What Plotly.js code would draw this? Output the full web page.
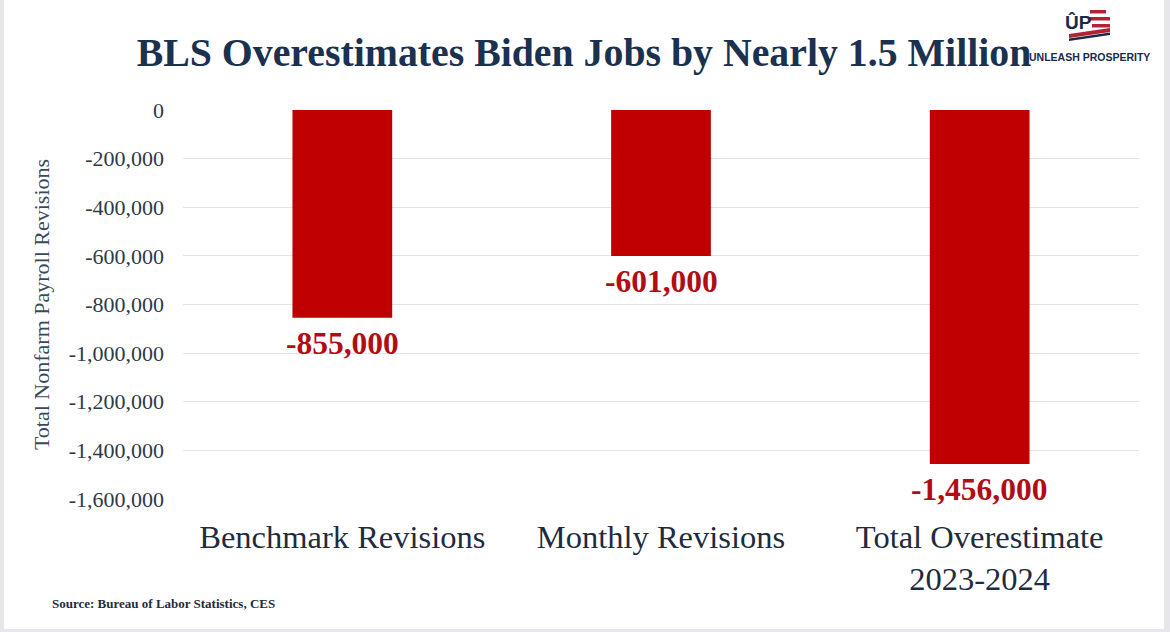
<!DOCTYPE html>
<html>
<head>
<meta charset="utf-8">
<script src="https://cdn.plot.ly/plotly-3.0.1.min.js"></script>
<style>
html,body{margin:0;padding:0;background:#fff;}
#chart{width:1170px;height:632px;}
</style>
</head>
<body>
<div id="chart"></div>
<script>
// ---- data ----
var categories = ["Benchmark Revisions", "Monthly Revisions", "Total Overestimate<br>2023-2024"];
var revisions = [-855000, -601000, -1456000];
var tickValues = [0, -200000, -400000, -600000, -800000, -1000000, -1200000, -1400000, -1600000];
var tickLabels = ["0", "-200,000", "-400,000", "-600,000", "-800,000", "-1,000,000", "-1,200,000", "-1,400,000", "-1,600,000"];
var valueLabels = ["-855,000", "-601,000", "-1,456,000"];

// ---- layout geometry (pixels -> paper) ----
var W = 1170, H = 632;
var mL = 183, mR = 31, mT = 110, mB = 133;
var pw = W - mL - mR, ph = H - mT - mB;
function px(x){ return (x - mL) / pw; }
function py(y){ return (H - mB - y) / ph; }

var serif = "Liberation Serif, Times New Roman, serif";
var navy = "#1B3150";
var red = "#C00000";

var trace = {
  type: "bar",
  x: categories,
  y: revisions,
  marker: {color: red, line: {width: 0}},
  width: 0.313,
  hoverinfo: "skip"
};

var annotations = categories.map(function(c, i){
  return {
    x: c, y: revisions[i], xref: "x", yref: "y",
    text: "<b>" + valueLabels[i] + "</b>",
    showarrow: false, yanchor: "top", yshift: -6,
    font: {family: serif, size: 31.5, color: "#B00D14"}
  };
});

annotations.push({
  xref: "paper", yref: "paper", x: px(50), y: py(603),
  xanchor: "left", yanchor: "middle", showarrow: false,
  text: "<b>Source: Bureau of Labor Statistics, CES</b>",
  font: {family: serif, size: 13, color: "#1E2C3E"}
});

// logo
annotations.push({
  xref: "paper", yref: "paper", x: px(1078), y: py(22),
  xanchor: "center", yanchor: "middle", showarrow: false,
  text: "<b>ÛP</b>",
  font: {family: "Liberation Sans Narrow, Liberation Sans, Arial Narrow, sans-serif", size: 19, color: "#1B2A4A"}
});
annotations.push({
  xref: "paper", yref: "paper", x: px(1089), y: py(57),
  xanchor: "center", yanchor: "middle", showarrow: false,
  text: "<b>UNLEASH PROSPERITY</b>",
  font: {family: "Liberation Sans Narrow, Liberation Sans, Arial Narrow, sans-serif", size: 10.5, color: "#1B2A4A"}
});

var shapes = [];
function rect(x0, y0, x1, y1, color){
  shapes.push({type: "rect", xref: "paper", yref: "paper",
    x0: px(x0), x1: px(x1), y0: py(y1), y1: py(y0),
    fillcolor: color, line: {width: 0}, layer: "above"});
}
// logo stripes
rect(1090, 10, 1106, 13.5, "#B22234");
rect(1090, 17, 1110, 20.5, "#B22234");
rect(1092, 24, 1110, 27.5, "#B22234");
shapes.push({type: "path", xref: "paper", yref: "paper",
  path: "M " + px(1069) + "," + py(34) + " L " + px(1110) + "," + py(28) + " L " + px(1110) + "," + py(32) + " L " + px(1069) + "," + py(38) + " Z",
  fillcolor: "#B22234", line: {width: 0}});
shapes.push({type: "path", xref: "paper", yref: "paper",
  path: "M " + px(1069) + "," + py(38.5) + " L " + px(1110) + "," + py(32.5) + " L " + px(1110) + "," + py(35) + " L " + px(1069) + "," + py(41) + " Z",
  fillcolor: "#1B2A4A", line: {width: 0}});
// frame edges
rect(0, 0, 4, 632, "#E6E6EB");
rect(1164, 0, 1170, 632, "#E6E6EB");
rect(0, 629, 1170, 632, "#E6E6EB");

var layout = {
  width: W, height: H,
  margin: {l: mL, r: mR, t: mT, b: mB, pad: 0},
  paper_bgcolor: "#FFFFFF", plot_bgcolor: "#FFFFFF",
  showlegend: false,
  title: {
    text: "<b>BLS Overestimates Biden Jobs by Nearly 1.5 Million</b>",
    x: 584 / W, xref: "container", xanchor: "center",
    y: 1 - 52 / H, yref: "container", yanchor: "middle",
    font: {family: serif, size: 39.8, color: navy}
  },
  xaxis: {
    type: "category",
    showgrid: false, zeroline: false, showline: false, ticks: "",
    ticklabelstandoff: 15,
    tickfont: {family: serif, size: 32.5, color: "#1E2C3E"}
  },
  yaxis: {
    range: [-1600000, 0],
    tickvals: tickValues, ticktext: tickLabels,
    showgrid: true, gridcolor: "#E3E3E3", gridwidth: 1,
    zeroline: false, showline: false, ticks: "",
    ticklabelstandoff: 18,
    tickfont: {family: serif, size: 22, color: "#2E3A48"},
    title: {text: "Total Nonfarm Payroll Revisions", standoff: 12,
      font: {family: serif, size: 22, color: "#3A4A5C"}}
  },
  annotations: annotations,
  shapes: shapes,
  bargap: 0.687
};

Plotly.newPlot("chart", [trace], layout, {displayModeBar: false, staticPlot: true});
</script>
</body>
</html>
